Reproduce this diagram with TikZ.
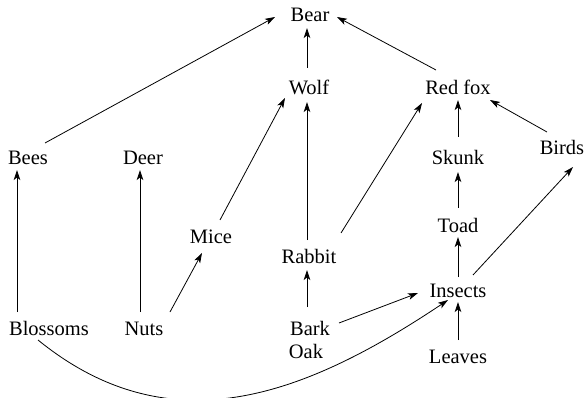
\documentclass[tikz,border=0pt]{standalone}
\usepackage{fontspec}
\setmainfont{Liberation Serif}
\usetikzlibrary{arrows.meta}
\begin{document}
\begin{tikzpicture}[x=1pt,y=-1pt,
  lbl/.style={anchor=base,inner sep=0pt,font=\fontsize{20.5}{23}\selectfont},
  arr/.style={line width=0.8pt,-{Stealth[length=10pt,width=6.5pt,inset=2.5pt]}}]
\useasboundingbox[fill=white] (0,0) rectangle (586,398);
% nodes (base points)
\node[lbl] (bear)     at (310,22)  {Bear};
\node[lbl] (wolf)     at (309,95)  {Wolf};
\node[lbl] (redfox)   at (458,95)  {Red fox};
\node[lbl] (birds)    at (562,155) {Birds};
\node[lbl] (skunk)    at (458,165) {Skunk};
\node[lbl] (bees)     at (28,165)  {Bees};
\node[lbl] (deer)     at (143,165) {Deer};
\node[lbl] (mice)     at (211,243) {Mice};
\node[lbl] (rabbit)   at (309,263) {Rabbit};
\node[lbl] (toad)     at (458,233) {Toad};
\node[lbl] (insects)  at (458,297) {Insects};
\node[lbl] (blossoms) at (49,335)  {Blossoms};
\node[lbl] (nuts)     at (144,335) {Nuts};
\node[lbl] (bark)     at (310,335) {Bark};
\node[lbl] (oak)      at (306,358) {Oak};
\node[lbl] (leaves)   at (458,363) {Leaves};
% connectors
\draw[arr] ([shift={(17,-22)}]bees.base) -- ([shift={(-35,-5)}]bear.base);
\draw[arr] ([shift={(-2,-27)}]wolf.base) -- ([shift={(-3,6)}]bear.base);
\draw[arr] ([shift={(-22,-25)}]redfox.base) -- ([shift={(27,-5)}]bear.base);
\draw[arr] ([shift={(-15,-23)}]birds.base) -- ([shift={(32,5)}]redfox.base);
\draw[arr] ([shift={(0,-28)}]skunk.base) -- ([shift={(0,5)}]redfox.base);
\draw[arr] ([shift={(0,-25)}]toad.base) -- ([shift={(0,7)}]skunk.base);
\draw[arr] ([shift={(0,-20)}]insects.base) -- ([shift={(0,4)}]toad.base);
\draw[arr] ([shift={(15,-22)}]insects.base) -- ([shift={(11,12)}]birds.base);
\draw[arr] ([shift={(0,-23)}]leaves.base) -- ([shift={(0,5)}]insects.base);
\draw[arr] ([shift={(29,-12)}]bark.base) -- ([shift={(-40,-4)}]insects.base);
\draw[arr] ([shift={(-3,-28)}]bark.base) -- ([shift={(-2,7)}]rabbit.base);
\draw[arr] ([shift={(-2,-23)}]rabbit.base) -- ([shift={(-2,7)}]wolf.base);
\draw[arr] ([shift={(32,-30)}]rabbit.base) -- ([shift={(-36,8)}]redfox.base);
\draw[arr] ([shift={(9,-23)}]mice.base) -- ([shift={(-24,3)}]wolf.base);
\draw[arr] ([shift={(26,-23)}]nuts.base) -- ([shift={(-9,10)}]mice.base);
\draw[arr] ([shift={(-4,-23)}]nuts.base) -- ([shift={(-3,5)}]deer.base);
\draw[arr] ([shift={(-32,-23)}]blossoms.base) -- ([shift={(-11,5)}]bees.base);
\draw[arr] ([shift={(-11,5)}]blossoms.base) .. controls (171,448) and (306,395) .. ([shift={(-10,3)}]insects.base);
\end{tikzpicture}
\end{document}
